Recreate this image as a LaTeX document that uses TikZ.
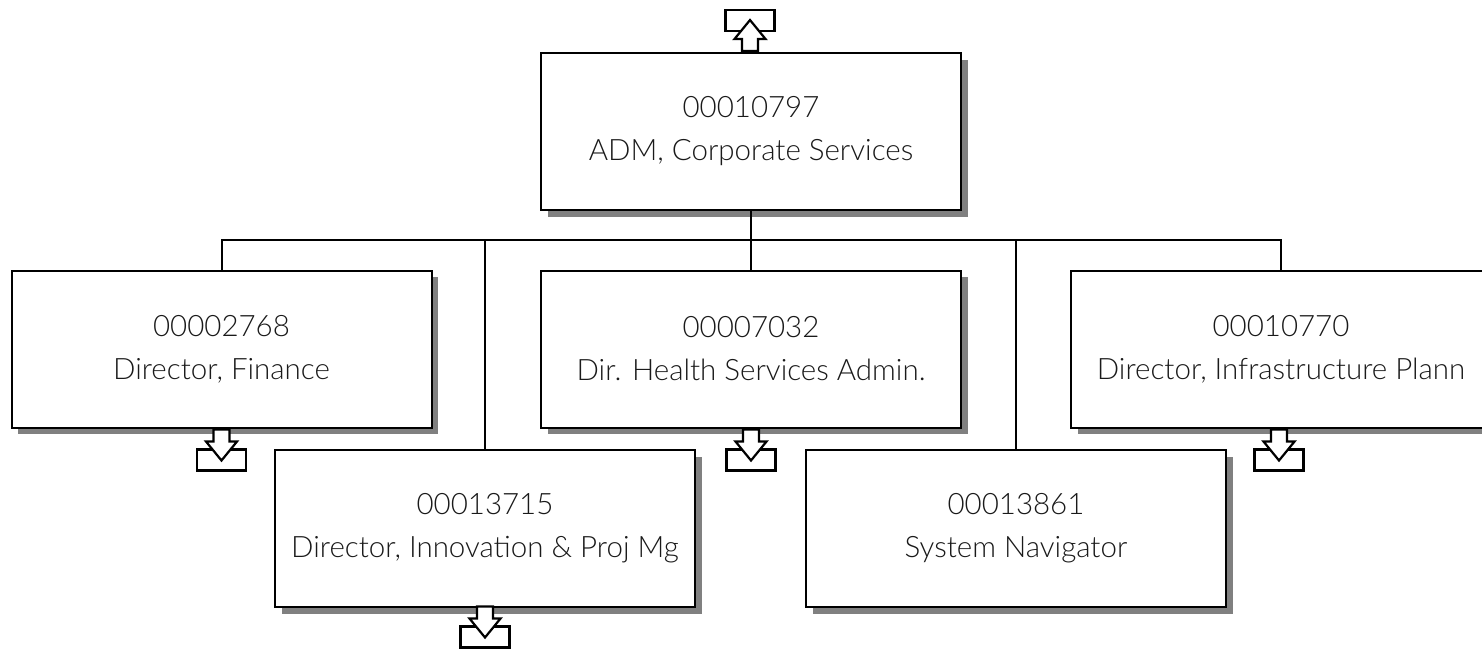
\documentclass[tikz,border=0pt]{standalone}
\usepackage{fontspec}
\setmainfont{Lato}[UprightFont={* Light}]
\usetikzlibrary{shadows,calc}
\definecolor{shadowgray}{HTML}{808080}
\definecolor{textgray}{HTML}{1A1A1A}
\tikzset{
  orgbox/.style={draw=black, line width=2pt, fill=white, minimum width=420pt, minimum height=157pt,
    inner sep=0pt, outer sep=0pt, align=center, text=textgray, font=\fontsize{29.5}{43}\selectfont,
    drop shadow={shadow xshift=6.5pt, shadow yshift=-6.5pt, fill=shadowgray, opacity=1}},
  link/.style={draw=black, line width=2pt},
  icon/.style={draw=black, line width=2.2pt, fill=white, line join=miter},
  pics/downicon/.style={code={
    \path[icon] (-24.5,20) rectangle (24.5,41);
    \path[icon] (-8,0) -- (8,0) -- (8,12) -- (15.5,12) -- (0,31) -- (-15.5,12) -- (-8,12) -- cycle;
  }}
}
\begin{document}
\begin{tikzpicture}[x=1pt,y=-1pt]
\useasboundingbox (0,0) rectangle (1482,649);
\node[orgbox] (top) at (751,131.5) {00010797\\ADM, Corporate Services};
\node[orgbox] (fin) at (221.5,349) {00002768\\Director, Finance};
\node[orgbox] (hsa) at (751,349) {00007032\\Dir. Health Services Admin.};
\node[orgbox] (inf) at (1281,349) {00010770\\Director, Infrastructure Plann};
\node[orgbox] (inn) at (485,528.5) {00013715\\Director, Innovation \& Proj Mg};
\node[orgbox] (sys) at (1016,528.5) {00013861\\System Navigator};
\coordinate (bus) at (751,240);
\draw[link] (top.south) -- (top.south |- bus);
\draw[link] (fin.north) -- (fin.north |- bus) -- (inf.north |- bus) -- (inf.north);
\draw[link] (inn.north) -- (inn.north |- bus);
\draw[link] (hsa.north) -- (hsa.north |- bus);
\draw[link] (sys.north) -- (sys.north |- bus);
\pic at ($(fin.south)+(0,2)$) {downicon};
\pic at ($(hsa.south)+(0,2)$) {downicon};
\pic at ($(inf.south)+(-2,2)$) {downicon};
\pic at ($(inn.south)+(0,-0.5)$) {downicon};
\pic[yscale=-1] at ($(top.north)+(-1,-2)$) {downicon};
\end{tikzpicture}
\end{document}
